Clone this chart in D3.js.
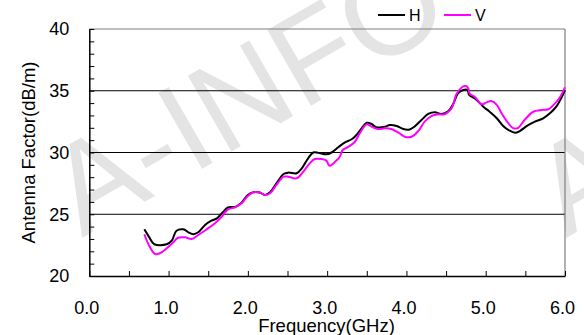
<!DOCTYPE html>
<html>
<head>
<meta charset="utf-8">
<script src="https://cdn.jsdelivr.net/npm/d3@7"></script>
<style>
  html, body { margin: 0; padding: 0; background: #fff; }
  svg { display: block; font-family: "Liberation Sans", Arial, sans-serif; }
</style>
</head>
<body>
<svg id="chart" width="584" height="335"></svg>
<script>
// ---- data ----
const seriesNames = ["H", "V"];
const seriesColors = ["#000000", "#ff00ff"];

const freqH = [0.694,0.757,0.82,0.976,1.04,1.10,1.186,1.25,1.31,1.375,1.46,1.54,1.61,1.69,1.75,1.84,1.92,2.0,2.07,2.15,2.215,2.28,2.36,2.45,2.51,2.615,2.68,2.76,2.825,2.89,2.99,3.056,3.14,3.22,3.31,3.37,3.435,3.5,3.56,3.62,3.73,3.79,3.876,3.96,4.04,4.1,4.19,4.275,4.36,4.44,4.53,4.59,4.65,4.716,4.77,4.79,4.83,4.885,4.97,5.05,5.14,5.22,5.3,5.37,5.43,5.52,5.62,5.725,5.81,5.89,5.94,6.0];
const valH  = [23.78,23.13,22.57,22.57,22.86,23.67,23.78,23.54,23.38,23.54,24.13,24.48,24.67,25.2,25.56,25.6,25.94,26.56,26.78,26.76,26.56,26.78,27.5,28.26,28.37,28.32,28.72,29.53,30.0,29.97,29.85,30.0,30.42,30.8,31.07,31.42,31.96,32.41,32.31,32.04,32.08,32.23,32.15,31.9,31.87,32.09,32.63,33.12,33.25,33.12,33.36,33.93,34.79,35.06,35.06,34.66,34.5,34.25,33.71,33.3,32.77,32.15,31.77,31.6,31.74,32.15,32.5,32.77,33.17,33.71,34.25,35.06];

const freqV = [0.694,0.757,0.83,0.89,0.976,1.06,1.12,1.207,1.29,1.375,1.48,1.585,1.67,1.75,1.84,1.92,2.0,2.07,2.15,2.215,2.28,2.36,2.45,2.51,2.615,2.7,2.78,2.846,2.93,2.99,3.03,3.1,3.16,3.195,3.27,3.35,3.41,3.5,3.56,3.64,3.73,3.81,3.9,3.98,4.065,4.15,4.23,4.32,4.4,4.48,4.57,4.63,4.7,4.75,4.78,4.8,4.86,4.95,5.01,5.07,5.14,5.2,5.28,5.35,5.41,5.49,5.6,5.705,5.79,5.875,5.94,6.0];
const valV  = [23.38,22.43,21.78,21.84,22.24,22.73,23.1,23.13,23.0,23.32,23.78,24.27,24.8,25.4,25.56,25.89,26.48,26.78,26.76,26.56,26.7,27.37,28.04,28.04,27.91,28.45,29.12,29.47,29.47,29.34,28.93,29.25,29.66,30.2,30.47,30.87,31.55,32.28,32.09,31.9,31.96,31.9,31.6,31.28,31.28,31.74,32.5,32.96,33.09,33.09,33.58,34.71,35.28,35.38,35.2,34.74,34.52,33.9,34.06,34.17,33.85,33.17,32.41,31.96,32.0,32.63,33.3,33.44,33.5,33.98,34.52,35.28];

const xTickValues = [0,0.5,1,1.5,2,2.5,3,3.5,4,4.5,5,5.5,6];
const xTickLabels = ["0.0","","1.0","","2.0","","3.0","","4.0","","5.0","","6.0"];
const yTickValues = d3.range(20, 41, 1);
const yLabelValues = [20,25,30,35,40];
const gridValues = [25,30,35];
const xTitle = "Frequency(GHz)";
const yTitle = "Antenna Factor(dB/m)";
const watermarkText = "A-INFO";

// ---- layout ----
const svg = d3.select("#chart");
const mLeft = 89.3, mRight = 565, mTop = 29, mBottom = 276;
const x = d3.scaleLinear().domain([0, 6]).range([mLeft, mRight]);
const y = d3.scaleLinear().domain([20, 40]).range([mBottom, mTop]);

// watermark
const wm = [[82, 238], [566, 238]];
wm.forEach(([wx, wy]) => {
  svg.append("text")
    .attr("transform", `translate(${wx},${wy}) rotate(-30)`)
    .attr("font-size", 127)
    .attr("fill", "#e4e4e4")
    .text(watermarkText);
});

// grid lines
svg.append("g").selectAll("line").data(gridValues).join("line")
  .attr("x1", mLeft).attr("x2", mRight)
  .attr("y1", d => y(d)).attr("y2", d => y(d))
  .attr("stroke", "#000").attr("stroke-width", 1);

// frame top/right
svg.append("line").attr("x1", mLeft).attr("x2", mRight).attr("y1", mTop).attr("y2", mTop)
  .attr("stroke", "#7f7f7f").attr("stroke-width", 1.2);
svg.append("line").attr("x1", mRight).attr("x2", mRight).attr("y1", mTop).attr("y2", mBottom)
  .attr("stroke", "#7f7f7f").attr("stroke-width", 1.2);

// x axis
const xAxis = d3.axisBottom(x).tickValues(xTickValues)
  .tickFormat((d, i) => xTickLabels[i]).tickSizeInner(-5).tickSizeOuter(0).tickPadding(25);
const gx = svg.append("g").attr("transform", `translate(0,${mBottom})`).call(xAxis);
gx.select(".domain").attr("stroke", "#000").attr("stroke-width", 1.5);
gx.selectAll(".tick line").attr("stroke", "#000").attr("stroke-width", 1);
gx.selectAll(".tick text").attr("font-size", 18).attr("fill", "#000")
  .attr("font-family", "Liberation Sans, Arial, sans-serif").attr("dx", -3);

// y axis
const yAxis = d3.axisLeft(y).tickValues(yTickValues)
  .tickFormat(d => yLabelValues.includes(d) ? String(d) : "").tickSizeInner(-5).tickSizeOuter(0).tickPadding(20);
const gy = svg.append("g").attr("transform", `translate(${mLeft},0)`).call(yAxis);
gy.select(".domain").attr("stroke", "#000").attr("stroke-width", 1.5);
gy.selectAll(".tick line").attr("stroke", "#000").attr("stroke-width", 1);
gy.selectAll(".tick text").attr("font-size", 18).attr("fill", "#000")
  .attr("font-family", "Liberation Sans, Arial, sans-serif");

// lines
const line = d3.line().x(d => x(d[0])).y(d => y(d[1])).curve(d3.curveCatmullRom.alpha(0.5));
const dataH = freqH.map((f, i) => [f, valH[i]]);
const dataV = freqV.map((f, i) => [f, valV[i]]);
svg.append("path").datum(dataH).attr("d", line).attr("fill", "none")
  .attr("stroke", seriesColors[0]).attr("stroke-width", 2);
svg.append("path").datum(dataV).attr("d", line).attr("fill", "none")
  .attr("stroke", seriesColors[1]).attr("stroke-width", 2);

// titles
svg.append("text").attr("x", 326.5).attr("y", 332).attr("text-anchor", "middle")
  .attr("font-size", 18.5).text(xTitle);
svg.append("text").attr("transform", `translate(35,152.5) rotate(-90)`).attr("text-anchor", "middle")
  .attr("font-size", 18.5).text(yTitle);

// legend
const legX = [378, 444];
seriesNames.forEach((name, i) => {
  svg.append("line").attr("x1", legX[i]).attr("x2", legX[i] + 27).attr("y1", 15).attr("y2", 15)
    .attr("stroke", seriesColors[i]).attr("stroke-width", 2);
  svg.append("text").attr("x", legX[i] + 31).attr("y", 21).attr("font-size", 16).text(name);
});
</script>
</body>
</html>
